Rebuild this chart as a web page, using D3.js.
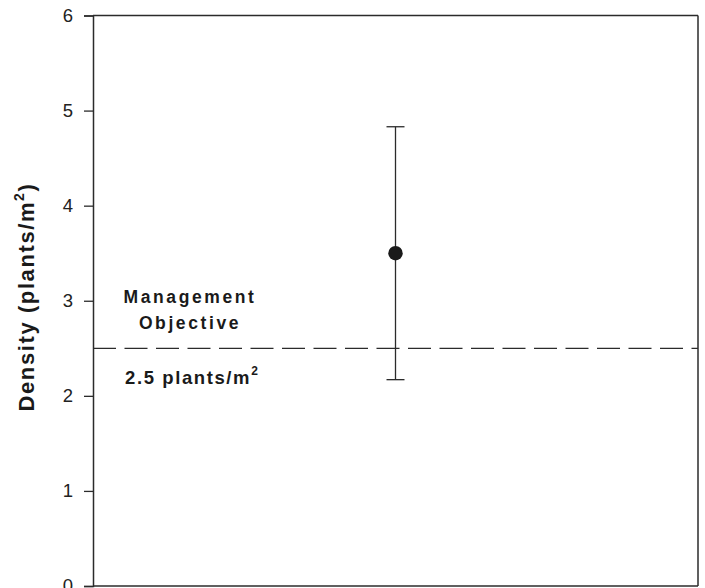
<!DOCTYPE html>
<html>
<head>
<meta charset="utf-8">
<script src="https://cdn.jsdelivr.net/npm/d3@7"></script>
<style>
  html, body { margin: 0; padding: 0; background: #fff; }
  svg { display: block; font-family: "Liberation Sans", Arial, sans-serif; }
</style>
</head>
<body>
<svg id="chart" width="705" height="588"></svg>
<script>
// ---- data ----
const categories = ["Site"];
const means = [3.5];
const upperErr = [4.83];
const lowerErr = [2.17];
const yTicks = [0, 1, 2, 3, 4, 5, 6];
const objectiveValue = 2.5;
const yTitle = "Density (plants/m";
const objLabelLines = ["Management", "Objective"];
const objValueLabel = "2.5 plants/m";

// ---- layout ----
const svg = d3.select("#chart");
const margin = { left: 93, top: 15.5, right: 7, bottom: 2 };
const W = 705, H = 588;
const x0 = margin.left, x1 = W - margin.right;
const y0 = H - margin.bottom, y1 = margin.top;
const ink = "#2b2b2b";

const x = d3.scalePoint().domain(categories).range([x0, x1]).padding(0.5);
const y = d3.scaleLinear().domain([0, 6]).range([y0, y1]);

// y axis
const yAxis = d3.axisLeft(y).tickValues(yTicks).tickSize(9).tickPadding(11).tickFormat(d3.format("d"));
const gy = svg.append("g").attr("transform", `translate(${x0},0)`).call(yAxis);
gy.select(".domain").attr("stroke", ink).attr("stroke-width", 1.5);
gy.selectAll(".tick line").attr("stroke", ink).attr("stroke-width", 1.3);
gy.selectAll(".tick text").attr("fill", "#222").style("font-size", "18.5px")
  .style("font-family", "'Liberation Sans', Arial, sans-serif");

// frame top, right, bottom
svg.append("line").attr("x1", x0).attr("x2", x1).attr("y1", y(6)).attr("y2", y(6))
  .attr("stroke", ink).attr("stroke-width", 1.5);
svg.append("line").attr("x1", x1).attr("x2", x1).attr("y1", y(6)).attr("y2", y(0))
  .attr("stroke", ink).attr("stroke-width", 1.5);
svg.append("line").attr("x1", x0).attr("x2", x1).attr("y1", y(0)).attr("y2", y(0))
  .attr("stroke", ink).attr("stroke-width", 1.5);

// objective dashed line
svg.append("line").attr("x1", x0).attr("x2", x1)
  .attr("y1", y(objectiveValue)).attr("y2", y(objectiveValue))
  .attr("stroke", ink).attr("stroke-width", 1.3)
  .attr("stroke-dasharray", "23,8.5");

// error bars
const capHalf = 9;
categories.forEach((c, i) => {
  const cx = x(c);
  svg.append("line").attr("x1", cx).attr("x2", cx)
    .attr("y1", y(lowerErr[i])).attr("y2", y(upperErr[i]))
    .attr("stroke", ink).attr("stroke-width", 1.3);
  [upperErr[i], lowerErr[i]].forEach(v => {
    svg.append("line").attr("x1", cx - capHalf).attr("x2", cx + capHalf)
      .attr("y1", y(v)).attr("y2", y(v))
      .attr("stroke", ink).attr("stroke-width", 1.3);
  });
  svg.append("circle").attr("cx", cx).attr("cy", y(means[i])).attr("r", 7.2)
    .attr("fill", "#1a1a1a");
});

// y title
const t = svg.append("text")
  .attr("transform", `translate(34,297) rotate(-90)`)
  .attr("text-anchor", "middle")
  .style("font-size", "22px").style("font-weight", "bold")
  .style("letter-spacing", "1.6px")
  .attr("fill", "#1a1a1a");
t.append("tspan").text(yTitle);
t.append("tspan").attr("dy", -10).style("font-size", "14px").text("2");
t.append("tspan").attr("dy", 10).text(")");

// objective labels
objLabelLines.forEach((s, i) => {
  svg.append("text").attr("x", 190).attr("y", 303 + i * 25.5)
    .attr("text-anchor", "middle")
    .style("font-size", "17.5px").style("font-weight", "bold")
    .style("letter-spacing", "2.6px")
    .attr("fill", "#1a1a1a").text(s);
});
const lab = svg.append("text").attr("x", 125).attr("y", 384)
  .style("font-size", "18.5px").style("font-weight", "bold")
  .style("letter-spacing", "1.6px")
  .attr("fill", "#1a1a1a");
lab.append("tspan").text(objValueLabel);
lab.append("tspan").attr("dy", -9).style("font-size", "12px").text("2");
</script>
</body>
</html>
